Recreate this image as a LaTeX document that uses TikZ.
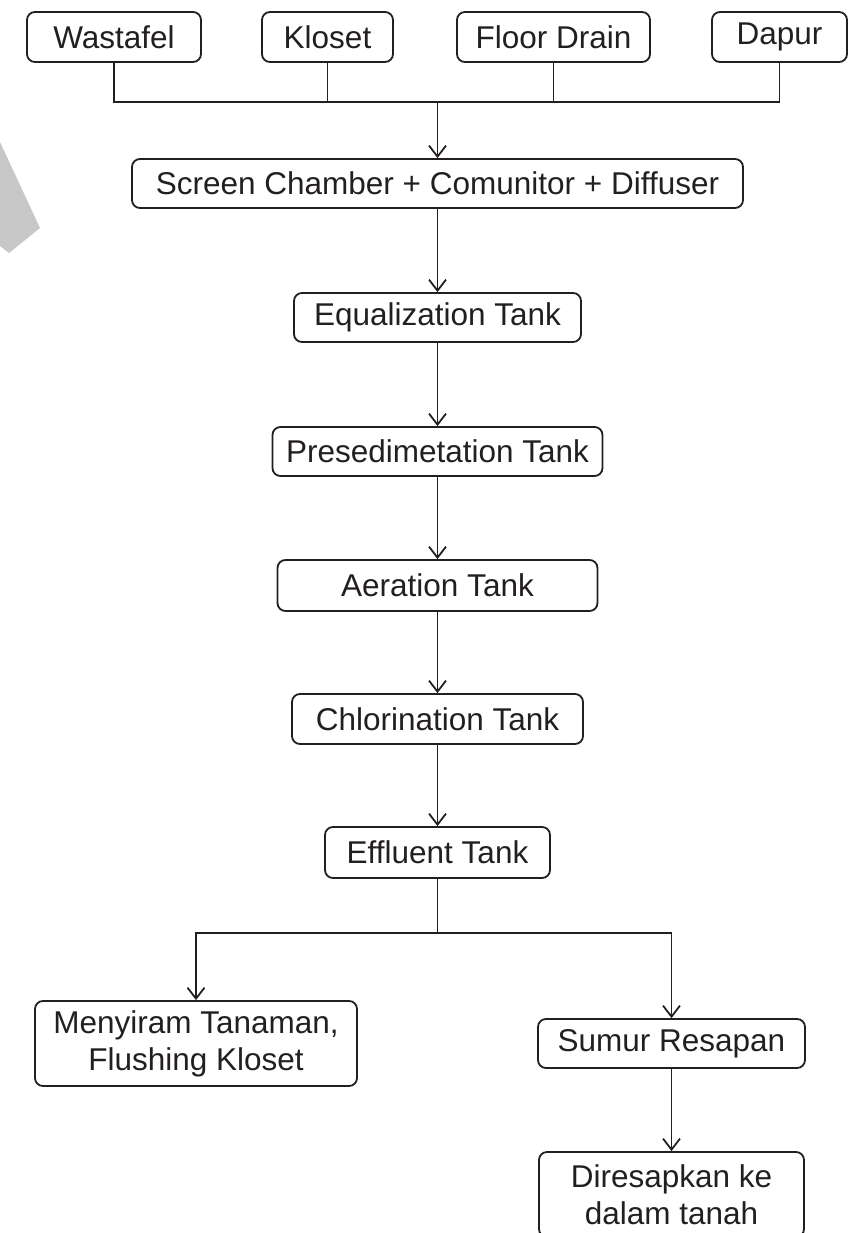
\documentclass[tikz,border=0pt]{standalone}
\usepackage{fontspec}
\setmainfont{Liberation Sans}
\usetikzlibrary{arrows.meta}
\definecolor{tinta}{HTML}{231F20}

\begin{document}
\begin{tikzpicture}[x=1pt,y=-1pt,line width=1.8pt,color=tinta,>={Straight Barb[length=11pt,width=17pt]},
  caja/.style={draw=tinta,rounded corners=8pt,inner sep=0pt,minimum height=50pt,align=center,
    font=\fontsize{31.5}{37}\selectfont}]
  \useasboundingbox (0,0) rectangle (864,1233);
  \clip (0,0) rectangle (864,1233);
  % bayangan abu-abu
  \fill[black!22] (0,142) -- (40,228) -- (9,253) -- (0,246) -- cycle;
  % sumber air
  \node[caja,minimum width=174pt] (was) at (114,37) {Wastafel};
  \node[caja,minimum width=131pt] (klo) at (327.5,37) {Kloset};
  \node[caja,minimum width=193pt] (flo) at (553.5,37) {Floor Drain};
  \node[caja,minimum width=135pt] (dap) at (779.5,37) {Dapur};
  % pengolahan
  \node[caja,minimum width=611pt,minimum height=49pt] (scr) at (437.5,183.5) {Screen Chamber + Comunitor + Diffuser};
  \node[caja,minimum width=287pt,minimum height=49pt] (equ) at (437.5,317.5) {Equalization Tank};
  \node[caja,minimum width=330pt,minimum height=49pt] (pre) at (437.5,451.5) {Presedimetation Tank};
  \node[caja,minimum width=320pt,minimum height=51pt] (aer) at (437.5,585.5) {Aeration Tank};
  \node[caja,minimum width=291pt] (chl) at (437.5,719) {Chlorination Tank};
  \node[caja,minimum width=225pt,minimum height=51pt] (eff) at (437.5,852.5) {Effluent Tank};
  % keluaran
  \node[caja,minimum width=322pt,minimum height=85pt] (men) at (196,1043.5) {Menyiram Tanaman,\\Flushing Kloset};
  \node[caja,minimum width=267pt,minimum height=49pt] (sum) at (671.5,1043.5) {Sumur Resapan};
  \node[caja,minimum width=265pt,minimum height=85pt] (dir) at (671.5,1194.5) {Diresapkan ke\\dalam tanah};
  % garis
  \coordinate (gab) at (437.5,102);
  \foreach \s in {was,klo,flo,dap} \draw (\s.south) |- (gab);
  \draw[->] (gab) -- (scr.north);
  \foreach \a/\b in {scr/equ,equ/pre,pre/aer,aer/chl,chl/eff} \draw[->] (\a) -- (\b);
  \coordinate (cab) at (437.5,933);
  \draw (eff.south) -- (cab);
  \draw[->] (cab) -| (men.north);
  \draw[->] (cab) -| (sum.north);
  \draw[->] (sum) -- (dir);
\end{tikzpicture}
\end{document}
